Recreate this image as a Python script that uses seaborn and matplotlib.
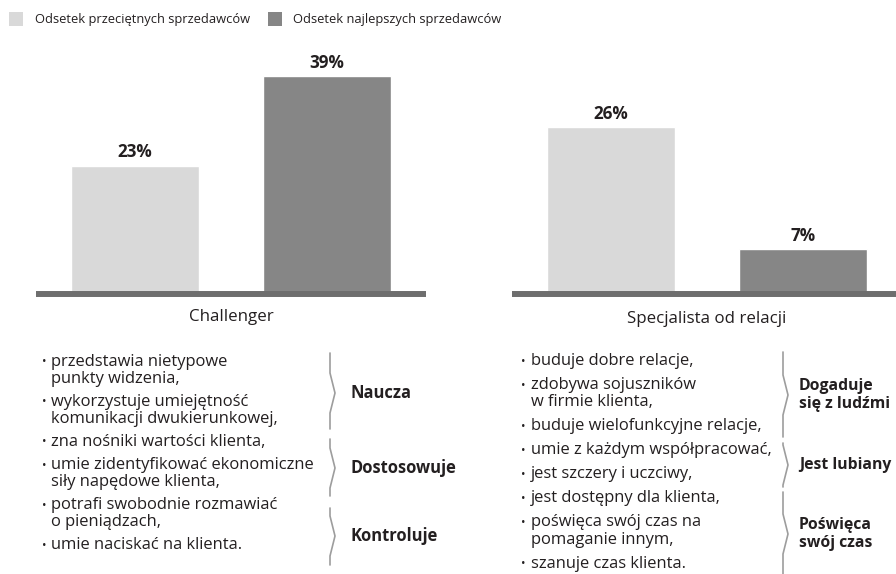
import numpy as np
import pandas as pd
import seaborn as sns
import matplotlib
matplotlib.use('Agg')
import matplotlib.pyplot as plt
from matplotlib.patches import Rectangle

# dane
serie = ['Odsetek przeciętnych sprzedawców', 'Odsetek najlepszych sprzedawców']
challenger_vals = [23, 39]
relacje_vals = [26, 7]
grupy = ['Challenger', 'Specjalista od relacji']

lista_challenger = [
    ['przedstawia nietypowe', 'punkty widzenia,'],
    ['wykorzystuje umiejętność', 'komunikacji dwukierunkowej,'],
    ['zna nośniki wartości klienta,'],
    ['umie zidentyfikować ekonomiczne', 'siły napędowe klienta,'],
    ['potrafi swobodnie rozmawiać', 'o pieniądzach,'],
    ['umie naciskać na klienta.'],
]
etykiety_challenger = ['Naucza', 'Dostosowuje', 'Kontroluje']

lista_relacje = [
    ['buduje dobre relacje,'],
    ['zdobywa sojuszników', 'w firmie klienta,'],
    ['buduje wielofunkcyjne relacje,'],
    ['umie z każdym współpracować,'],
    ['jest szczery i uczciwy,'],
    ['jest dostępny dla klienta,'],
    ['poświęca swój czas na', 'pomaganie innym,'],
    ['szanuje czas klienta.'],
]
etykiety_relacje = ['Dogaduje\nsię z ludźmi', 'Jest lubiany', 'Poświęca\nswój czas']

JASNY = '#d9d9d9'
CIEMNY = '#868686'
LINIA = '#6e6e6e'
TEKST = '#231f20'
KLAMRA = '#9d9d9d'

sns.set_theme(style='white')
plt.rcParams['font.family'] = ['Open Sans', 'DejaVu Sans']

W, H = 896, 574
fig = plt.figure(figsize=(W / 100, H / 100), dpi=100)


def px_axes(x0, x1, y_top, y_bot):
    return fig.add_axes([x0 / W, 1 - y_bot / H, (x1 - x0) / W, (y_bot - y_top) / H])


# wykresy słupkowe
panele = [
    (challenger_vals, 36, 426, 5.58, (-0.516, 1.516)),
    (relacje_vals, 512, 896, 6.42, (-0.516, 1.484)),
]
for vals, x0, x1, skala, xl in panele:
    ax = px_axes(x0, x1, 40, 294)
    df = pd.DataFrame({'seria': serie, 'wartosc': vals})
    sns.barplot(data=df, x='seria', y='wartosc', hue='seria', palette=[JASNY, CIEMNY],
                width=0.667, legend=False, ax=ax, saturation=1)
    ax.set_xlim(*xl)
    ax.set_ylim(0, 254 / skala)
    ax.axhline(0, color=LINIA, lw=4.3, clip_on=False, solid_capstyle='butt')
    for c in ax.containers:
        ax.bar_label(c, fmt='%d%%', padding=3, fontsize=12.3, fontweight='bold', color=TEKST)
    ax.set_axis_off()

# warstwa na tekst w pikselach
ov = fig.add_axes([0, 0, 1, 1])
ov.set_xlim(0, W)
ov.set_ylim(H, 0)
ov.set_axis_off()
ov.patch.set_alpha(0)

# legenda
for kolor, sx, tx, txt in [(JASNY, 9, 35, serie[0]), (CIEMNY, 268, 293, serie[1])]:
    ov.add_patch(Rectangle((sx, 12), 14, 14, color=kolor, lw=0))
    ov.text(tx, 19.5, txt, fontsize=9.3, color=TEKST, va='center', ha='left')

ov.text(231, 317, grupy[0], fontsize=12.2, color=TEKST, ha='center', va='center')
ov.text(707, 319, grupy[1], fontsize=12.2, color=TEKST, ha='center', va='center')


def lista(pozycje, x_kropka, x_tekst, y0, sep, cont):
    y = y0
    for i, punkt in enumerate(pozycje):
        if i > 0:
            y += sep
        for j, linia in enumerate(punkt):
            if j > 0:
                y += cont
            else:
                ov.text(x_kropka, y, '•', fontsize=8.5, color=TEKST, ha='left', va='center')
            ov.text(x_tekst, y, linia, fontsize=11.9, color=TEKST, ha='left', va='center')


def klamra(x, y0, y1, ym):
    xs = [x, x, x + 5, x, x]
    ys = [y0, ym - 20, ym, ym + 20, y1]
    ov.plot(xs, ys, color=KLAMRA, lw=1.2, solid_joinstyle='round')


lista(lista_challenger, 42, 51, 362, 23, 17)
lista(lista_relacje, 521, 531, 361, 24, 17.5)

# klamry i etykiety - Challenger
for (y0, y1, ym), etyk in zip([(353, 429, 393), (439, 496, 468), (508, 565, 536)],
                             etykiety_challenger):
    klamra(330, y0, y1, ym)
    ov.text(350, ym, etyk, fontsize=11.9, fontweight='bold', color=TEKST, ha='left', va='center')

# klamry i etykiety - Specjalista od relacji
for (y0, y1, ym), etyk in zip([(352, 437, 395), (443, 487, 465), (492, 574, 534)],
                             etykiety_relacje):
    klamra(783, y0, y1, ym)
    ov.text(799, ym, etyk, fontsize=11.3, fontweight='bold', color=TEKST, ha='left',
            va='center', linespacing=1.1)

fig.savefig('out.png', dpi=100)
